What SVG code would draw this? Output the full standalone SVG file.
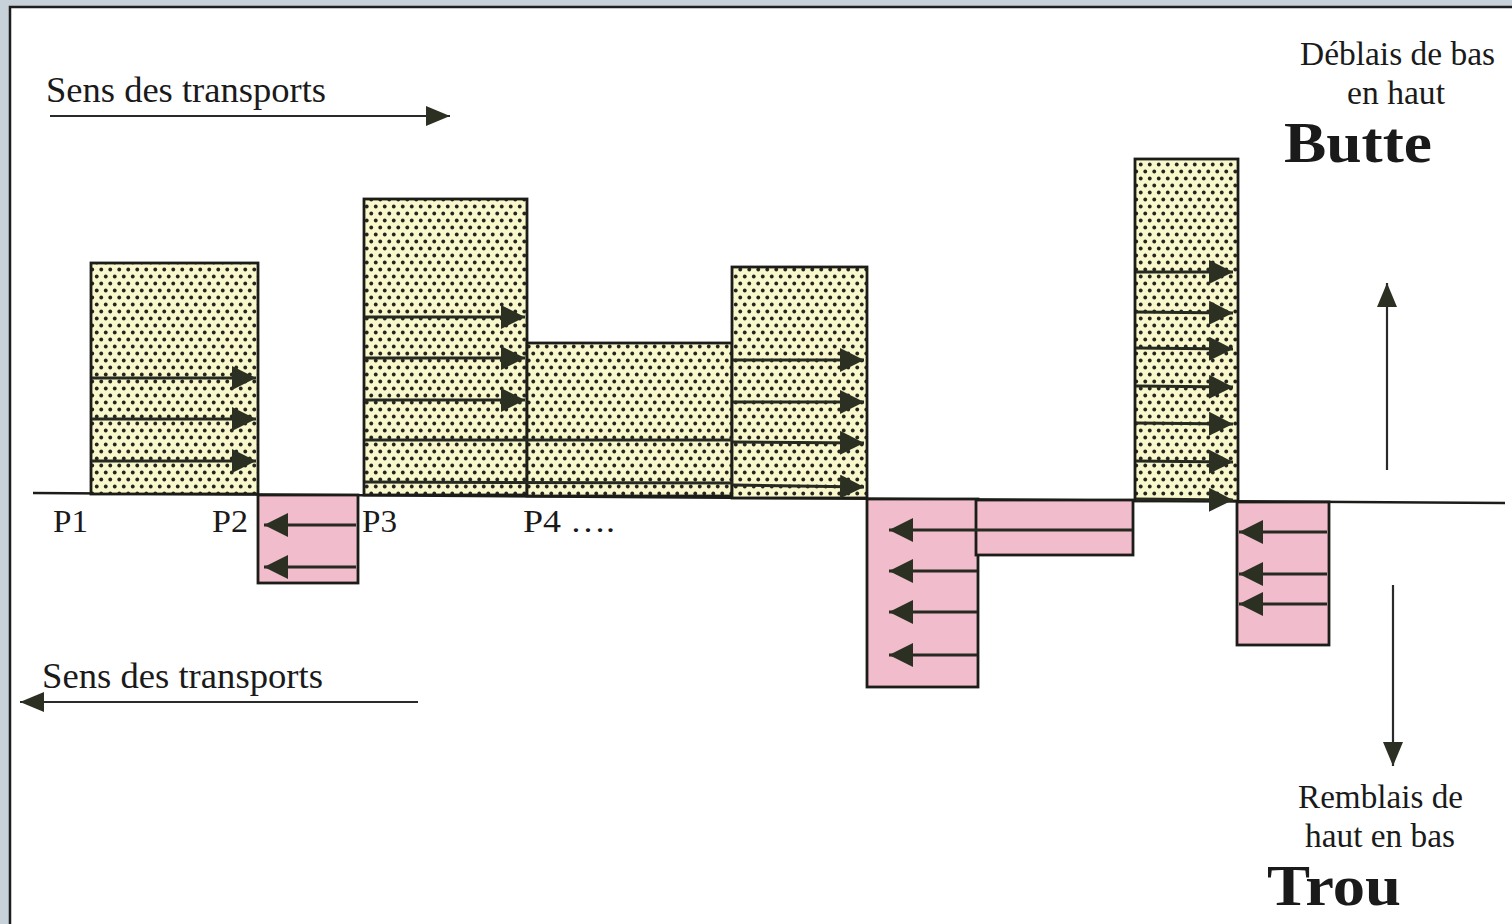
<svg xmlns="http://www.w3.org/2000/svg" width="1512" height="924" viewBox="0 0 1512 924">
<defs>
<pattern id="dots" patternUnits="userSpaceOnUse" width="9" height="14">
<rect width="9" height="14" fill="#f9f7cc"/>
<circle cx="2.25" cy="3.5" r="1.9" fill="#25251e"/>
<circle cx="6.75" cy="10.5" r="1.9" fill="#25251e"/>
</pattern>
<marker id="ah" viewBox="0 0 24 24" refX="24" refY="12" markerWidth="24" markerHeight="24" markerUnits="userSpaceOnUse" orient="auto">
<path d="M0,0 L24,12 L0,24 z" fill="#2b3023"/>
</marker>
<marker id="ahs" viewBox="0 0 24 20" refX="24" refY="10" markerWidth="24" markerHeight="20" markerUnits="userSpaceOnUse" orient="auto">
<path d="M0,0 L24,10 L0,20 z" fill="#2b3023"/>
</marker>
</defs>
<style>
.y{fill:url(#dots);stroke:#1c1c18;stroke-width:2.8}
.p{fill:#f1bccb;stroke:#1c1c18;stroke-width:2.8}
.a{stroke:#262a20;stroke-width:3;fill:none;marker-end:url(#ah)}
.l{stroke:#262a20;stroke-width:3;fill:none}
.g{stroke:#2a2a2a;stroke-width:2.2;fill:none;marker-end:url(#ahs)}
.t{font-family:"Liberation Serif","Times New Roman",serif;fill:#1a1a1a}
.b{font-family:"Liberation Serif","Times New Roman",serif;font-weight:bold;fill:#1a1a1a}
</style>
<rect x="0" y="0" width="1512" height="924" fill="#c6d1d9"/>
<rect x="10" y="7" width="1512" height="930" fill="#ffffff" stroke="#1e1e1e" stroke-width="2.5"/>

<g id="baseline"><line x1="33" y1="493" x2="1505" y2="503" stroke="#1c1c18" stroke-width="2.5"/></g>

<g id="butte1"><rect class="y" x="91" y="263" width="167" height="231"/></g>
<g id="butte2"><rect class="y" x="364" y="199" width="163" height="296"/></g>
<g id="butte3"><rect class="y" x="527" y="343" width="205" height="153"/></g>
<g id="butte4"><rect class="y" x="732" y="267" width="135" height="231"/></g>
<g id="butte5"><rect class="y" x="1135" y="159" width="103" height="342"/></g>

<g id="trou1"><rect class="p" x="258" y="495" width="100" height="88"/></g>
<g id="trou2"><rect class="p" x="867" y="499" width="111" height="188"/></g>
<g id="trou3"><rect class="p" x="976" y="500" width="157" height="55"/></g>
<g id="trou4"><rect class="p" x="1237" y="502" width="92" height="143"/></g>

<g id="connectors">
<line class="a" x1="92" y1="378" x2="256" y2="378"/>
<line class="a" x1="92" y1="419" x2="256" y2="419"/>
<line class="a" x1="92" y1="461" x2="256" y2="461"/>
<line class="a" x1="365" y1="317" x2="525" y2="317"/>
<line class="a" x1="365" y1="358" x2="525" y2="358"/>
<line class="a" x1="365" y1="400" x2="525" y2="400"/>
<polyline class="l" points="365,440 733,440"/>
<polyline class="l" points="365,482 733,483"/>
<line class="a" x1="733" y1="360" x2="864" y2="360"/>
<line class="a" x1="733" y1="402" x2="864" y2="402"/>
<line class="a" x1="733" y1="442" x2="864" y2="443"/>
<line class="a" x1="733" y1="485" x2="864" y2="487"/>
<line class="a" x1="1136" y1="272" x2="1233" y2="272"/>
<line class="a" x1="1136" y1="312" x2="1233" y2="313"/>
<line class="a" x1="1136" y1="348" x2="1233" y2="349"/>
<line class="a" x1="1136" y1="386" x2="1233" y2="387"/>
<line class="a" x1="1136" y1="423" x2="1233" y2="424"/>
<line class="a" x1="1136" y1="461" x2="1233" y2="462"/>
<line class="a" x1="1136" y1="499" x2="1233" y2="500"/>
<line class="a" x1="356" y1="525" x2="264" y2="525"/>
<line class="a" x1="356" y1="567" x2="264" y2="567"/>
<line class="a" x1="1132" y1="530" x2="889" y2="530"/>
<line class="a" x1="977" y1="571" x2="889" y2="571"/>
<line class="a" x1="977" y1="612" x2="889" y2="612"/>
<line class="a" x1="977" y1="655" x2="889" y2="655"/>
<line class="a" x1="1327" y1="532" x2="1239" y2="532"/>
<line class="a" x1="1327" y1="574" x2="1239" y2="574"/>
<line class="a" x1="1327" y1="604" x2="1239" y2="604"/>
<line class="g" x1="50" y1="116" x2="450" y2="116"/>
<line class="g" x1="418" y1="702" x2="20" y2="702"/>
<line class="g" x1="1387" y1="470" x2="1387" y2="283"/>
<line class="g" x1="1393" y1="585" x2="1393" y2="766"/>
</g>

<g id="labels">
<text class="t" x="46" y="102" font-size="35" textLength="280" lengthAdjust="spacingAndGlyphs">Sens des transports</text>
<text class="t" x="42" y="688" font-size="35" textLength="281" lengthAdjust="spacingAndGlyphs">Sens des transports</text>
<text class="t" x="53" y="532" font-size="32" textLength="35" lengthAdjust="spacingAndGlyphs">P1</text>
<text class="t" x="212" y="532" font-size="32" textLength="36" lengthAdjust="spacingAndGlyphs">P2</text>
<text class="t" x="362" y="532" font-size="32" textLength="35" lengthAdjust="spacingAndGlyphs">P3</text>
<text class="t" x="523" y="532" font-size="32" textLength="92" lengthAdjust="spacingAndGlyphs">P4 ….</text>
<text class="t" x="1300" y="65" font-size="33" textLength="195" lengthAdjust="spacingAndGlyphs">Déblais de bas</text>
<text class="t" x="1347" y="104" font-size="33" textLength="98" lengthAdjust="spacingAndGlyphs">en haut</text>
<text class="b" x="1284" y="162" font-size="58" textLength="148" lengthAdjust="spacingAndGlyphs">Butte</text>
<text class="t" x="1298" y="808" font-size="33" textLength="165" lengthAdjust="spacingAndGlyphs">Remblais de</text>
<text class="t" x="1305" y="847" font-size="33" textLength="150" lengthAdjust="spacingAndGlyphs">haut en bas</text>
<text class="b" x="1267" y="905" font-size="58" textLength="134" lengthAdjust="spacingAndGlyphs">Trou</text>
</g>
</svg>
